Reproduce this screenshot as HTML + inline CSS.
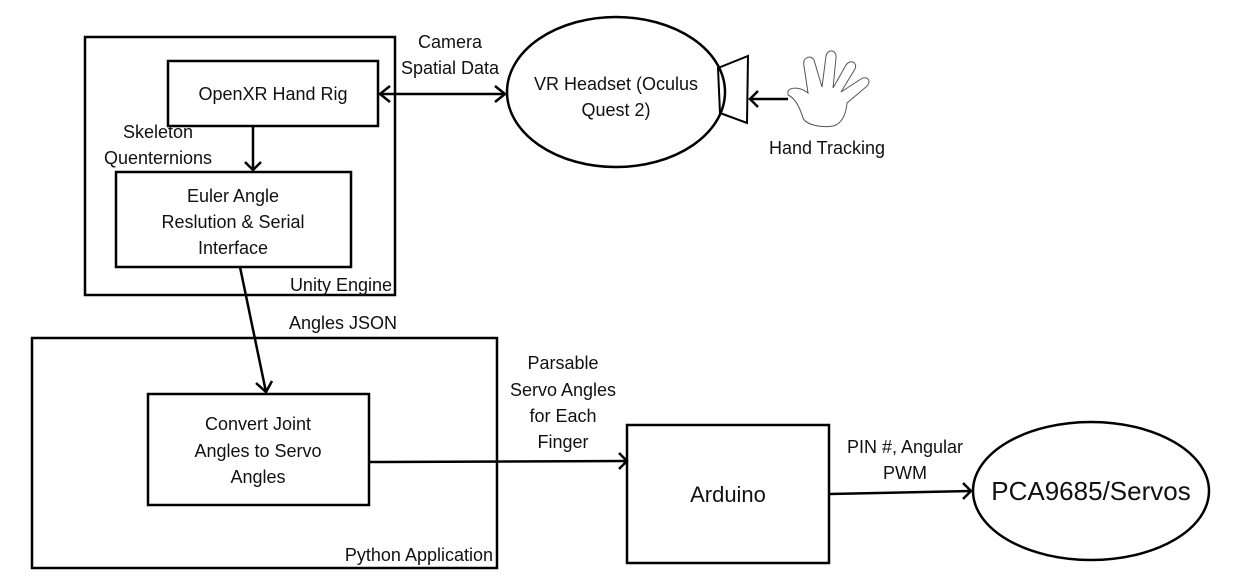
<!DOCTYPE html>
<html><head><meta charset="utf-8"><style>
html,body{margin:0;padding:0;background:#fff;}
svg{display:block;}
text{font-family:"Liberation Sans","DejaVu Sans",sans-serif;font-size:18px;fill:#111;}
</style></head><body>
<svg width="1256" height="581" viewBox="0 0 1256 581" xmlns="http://www.w3.org/2000/svg">
<g fill="none" stroke="#000" stroke-width="2.5">
<rect x="85" y="37" width="310" height="258"/>
<rect x="168" y="61" width="210" height="65"/>
<rect x="116" y="172" width="235" height="95"/>
<rect x="32" y="338" width="465" height="230"/>
<rect x="148" y="394" width="221" height="111"/>
<rect x="627" y="425" width="202" height="138"/>
<ellipse cx="616" cy="92" rx="109" ry="75"/>
<ellipse cx="1091" cy="491" rx="118" ry="69"/>
<polygon points="718,68 748,56 747,123 720,113" stroke-width="2"/>
<line x1="380" y1="94" x2="505" y2="94"/>
<polyline points="390,86 380,94 390,102"/>
<polyline points="495,86 505,94 495,102"/>
<line x1="253" y1="126" x2="253" y2="170"/>
<polyline points="245,162 253,170 261,162"/>
<line x1="240" y1="267" x2="266" y2="392"/>
<polyline points="256,383 266,392 272,381"/>
<line x1="369" y1="462" x2="627" y2="461"/>
<polyline points="619,453 627,461 619,469"/>
<line x1="829" y1="494" x2="971" y2="491"/>
<polyline points="963,483 971,491 963,499"/>
<line x1="788" y1="99" x2="750" y2="99"/>
<polyline points="758,91 750,99 758,107"/>
</g>
<path d="M788,91 C792,86 802,88 808,93 L804,66 C802,58 810,54 814,60 L822,87 L826,56 C828,48 837,50 836,58 L833,88 L846,65 C850,59 858,62 855,69 L841,92 L861,79 C868,75 872,82 866,87 L847,103 C846,114 842,124 833,126 C822,128 806,125 803,118 C800,108 795,98 788,95 Z" fill="none" stroke="#555" stroke-width="1"/>
<g text-anchor="middle">
<text x="450" y="48">Camera</text>
<text x="450" y="74">Spatial Data</text>
<text x="273" y="100">OpenXR Hand Rig</text>
<text x="158" y="138">Skeleton</text>
<text x="158" y="164">Quenternions</text>
<text x="233" y="202">Euler Angle</text>
<text x="233" y="228">Reslution &amp; Serial</text>
<text x="233" y="254">Interface</text>
<text x="616" y="90">VR Headset (Oculus</text>
<text x="616" y="116">Quest 2)</text>
<text x="827" y="154">Hand Tracking</text>
<text x="343" y="329">Angles JSON</text>
<text x="258" y="430">Convert Joint</text>
<text x="258" y="457">Angles to Servo</text>
<text x="258" y="483">Angles</text>
<text x="563" y="369">Parsable</text>
<text x="563" y="396">Servo Angles</text>
<text x="563" y="422">for Each</text>
<text x="563" y="448">Finger</text>
<text x="905" y="453">PIN #, Angular</text>
<text x="905" y="479">PWM</text>
<text x="728" y="502" style="font-size:22px">Arduino</text>
<text x="1091" y="500" style="font-size:26px">PCA9685/Servos</text>
</g>
<g text-anchor="end">
<text x="392" y="291">Unity Engine</text>
<text x="493" y="561">Python Application</text>
</g>
</svg>
</body></html>
